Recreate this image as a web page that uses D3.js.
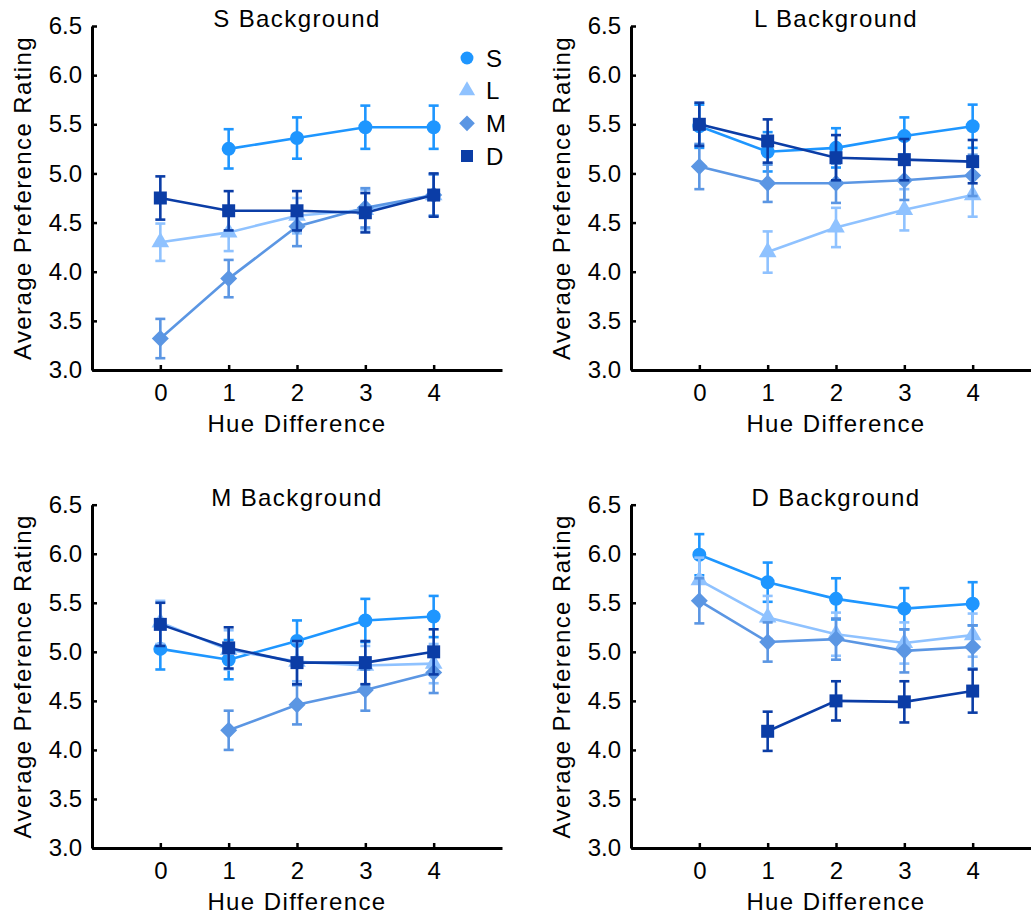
<!DOCTYPE html>
<html>
<head>
<meta charset="utf-8">
<script src="https://cdn.jsdelivr.net/npm/d3@7"></script>
<style>
  body { margin: 0; background: #fff; }
  text { font-family: "Liberation Sans", Arial, Helvetica, sans-serif; fill: #000; }
</style>
</head>
<body>
<div id="chart"></div>
<script>
var hueDiff = [0, 1, 2, 3, 4]
var seriesNames = ['S', 'L', 'M', 'D']
var seriesColors = ['#1e96ff', '#8fc2ff', '#5b96e3', '#0b3da6']
var panelTitles = ['S Background', 'L Background', 'M Background', 'D Background']
var yTicks = [3.0, 3.5, 4.0, 4.5, 5.0, 5.5, 6.0, 6.5]

// rows: S, L, M, D stimulus; null = no point
var sBgMeans = [
  [null, 5.25, 5.36, 5.47, 5.47],
  [4.30, 4.40, 4.57, 4.63, 4.78],
  [3.32, 3.93, 4.46, 4.65, 4.78],
  [4.75, 4.62, 4.62, 4.60, 4.78]
]
var sBgErr = [
  [null, 0.20, 0.21, 0.22, 0.22],
  [0.19, 0.19, 0.18, 0.20, 0.21],
  [0.20, 0.19, 0.20, 0.20, 0.21],
  [0.22, 0.20, 0.20, 0.20, 0.22]
]
var lBgMeans = [
  [5.48, 5.22, 5.26, 5.38, 5.48],
  [null, 4.20, 4.45, 4.63, 4.78],
  [5.07, 4.90, 4.90, 4.93, 4.98],
  [5.50, 5.33, 5.16, 5.14, 5.12]
]
var lBgErr = [
  [0.22, 0.20, 0.20, 0.19, 0.22],
  [null, 0.21, 0.20, 0.21, 0.22],
  [0.23, 0.19, 0.20, 0.20, 0.21],
  [0.22, 0.22, 0.23, 0.21, 0.22]
]
var mBgMeans = [
  [5.03, 4.92, 5.11, 5.32, 5.36],
  [5.30, 5.02, 4.90, 4.86, 4.88],
  [null, 4.20, 4.46, 4.61, 4.79],
  [5.28, 5.04, 4.89, 4.89, 5.00]
]
var mBgErr = [
  [0.21, 0.20, 0.21, 0.22, 0.21],
  [0.22, 0.20, 0.20, 0.20, 0.20],
  [null, 0.20, 0.20, 0.21, 0.21],
  [0.22, 0.21, 0.22, 0.22, 0.23]
]
var dBgMeans = [
  [5.99, 5.71, 5.54, 5.44, 5.49],
  [5.73, 5.35, 5.18, 5.09, 5.17],
  [5.52, 5.10, 5.13, 5.01, 5.05],
  [null, 4.19, 4.50, 4.49, 4.60]
]
var dBgErr = [
  [0.21, 0.20, 0.21, 0.21, 0.22],
  [0.23, 0.22, 0.22, 0.21, 0.22],
  [0.23, 0.20, 0.21, 0.22, 0.22],
  [null, 0.20, 0.20, 0.21, 0.22]
]

var allMeans = [sBgMeans, lBgMeans, mBgMeans, dBgMeans]
var allErr = [sBgErr, lBgErr, mBgErr, dBgErr]

var W = 1031, H = 915
var svg = d3.select('#chart').append('svg')
    .attr('width', W)
    .attr('height', H)

// panel placement: left edge of y axis, top/bottom of plot
var panelLeft = [92, 631, 92, 631]
var panelTop = [26, 26, 504.7, 504.7]
var panelBottom = [370, 370, 848, 848]
var panelWidth = 410

function markerPath (name, big) {
  var k = big ? 1 : 0.85
  if (name === 'S') return d3.symbol().type(d3.symbolCircle).size(154 * k)()
  if (name === 'L') return d3.symbol().type(d3.symbolTriangle).size(135 * k)()
  if (name === 'M') {
    var r = 8.5 * Math.sqrt(k)
    return 'M0,' + (-r) + 'L' + r + ',0L0,' + r + 'L' + (-r) + ',0Z'
  }
  return d3.symbol().type(d3.symbolSquare).size(169 * k)()
}

panelTitles.forEach(function (title, p) {
  var x0 = panelLeft[p]
  var x = d3.scaleLinear().domain([-1, 5]).range([x0, x0 + panelWidth])
  var y = d3.scaleLinear().domain([3.0, 6.5]).range([panelBottom[p], panelTop[p]])
  var g = svg.append('g')

  var yAxis = g.append('g')
      .attr('transform', 'translate(' + x0 + ',0)')
      .call(d3.axisLeft(y).tickValues(yTicks).tickFormat(d3.format('.1f'))
        .tickSizeInner(-5).tickSizeOuter(0).tickPadding(10))
  var xAxis = g.append('g')
      .attr('transform', 'translate(0,' + panelBottom[p] + ')')
      .call(d3.axisBottom(x).tickValues(hueDiff).tickFormat(d3.format('d'))
        .tickSizeInner(-5).tickSizeOuter(0).tickPadding(14))

  ;[xAxis, yAxis].forEach(function (a) {
    a.select('.domain').attr('stroke', '#000').attr('stroke-width', 3)
    a.selectAll('.tick line').attr('stroke', '#000').attr('stroke-width', 2.5)
    a.selectAll('.tick text').style('font-size', '24px')
      .style('font-family', '"Liberation Sans", Arial, sans-serif').attr('fill', '#000')
  })
  xAxis.selectAll('.tick text').attr('dy', '0.71em')

  g.append('text')
      .attr('x', x(2))
      .attr('y', panelTop[p] + 1)
      .attr('text-anchor', 'middle')
      .style('font-size', '24px')
      .style('letter-spacing', '1.4px')
      .text(title)

  g.append('text')
      .attr('x', x(2))
      .attr('y', panelBottom[p] + 62)
      .attr('text-anchor', 'middle')
      .style('font-size', '24px')
      .style('letter-spacing', '1.4px')
      .text('Hue Difference')

  g.append('text')
      .attr('transform', 'translate(' + (x0 - 61) + ',' + ((panelTop[p] + panelBottom[p]) / 2) + ') rotate(-90)')
      .attr('text-anchor', 'middle')
      .style('font-size', '24px')
      .style('letter-spacing', '1.4px')
      .text('Average Preference Rating')

  var line = d3.line()
      .defined(function (d) { return d.m !== null })
      .x(function (d) { return x(d.h) })
      .y(function (d) { return y(d.m) })

  seriesNames.forEach(function (name, s) {
    var pts = hueDiff.map(function (h, i) {
      return { h: h, m: allMeans[p][s][i], e: allErr[p][s][i] }
    })
    var col = seriesColors[s]
    var sg = g.append('g')

    sg.append('path')
        .datum(pts)
        .attr('fill', 'none')
        .attr('stroke', col)
        .attr('stroke-width', 2.6)
        .attr('d', line)

    var valid = pts.filter(function (d) { return d.m !== null })
    var eb = sg.selectAll('g.eb').data(valid).enter().append('g')
        .attr('stroke', col)
        .attr('stroke-width', 2.6)
    eb.append('line')
        .attr('x1', function (d) { return x(d.h) })
        .attr('x2', function (d) { return x(d.h) })
        .attr('y1', function (d) { return y(d.m - d.e) })
        .attr('y2', function (d) { return y(d.m + d.e) })
    eb.append('line')
        .attr('x1', function (d) { return x(d.h) - 5 })
        .attr('x2', function (d) { return x(d.h) + 5 })
        .attr('y1', function (d) { return y(d.m - d.e) })
        .attr('y2', function (d) { return y(d.m - d.e) })
    eb.append('line')
        .attr('x1', function (d) { return x(d.h) - 5 })
        .attr('x2', function (d) { return x(d.h) + 5 })
        .attr('y1', function (d) { return y(d.m + d.e) })
        .attr('y2', function (d) { return y(d.m + d.e) })

    sg.selectAll('path.mk').data(valid).enter().append('path')
        .attr('class', 'mk')
        .attr('transform', function (d) { return 'translate(' + x(d.h) + ',' + y(d.m) + ')' })
        .attr('d', markerPath(name, true))
        .attr('fill', col)
  })
})

// legend in first panel
var legend = svg.append('g')
var legY = d3.scalePoint().domain(seriesNames).range([58, 156])
seriesNames.forEach(function (name, s) {
  legend.append('path')
      .attr('transform', 'translate(467,' + legY(name) + ')')
      .attr('d', markerPath(name, false))
      .attr('fill', seriesColors[s])
  legend.append('text')
      .attr('x', 486)
      .attr('y', legY(name))
      .attr('dy', '0.36em')
      .style('font-size', '24px')
      .text(name)
})
</script>
</body>
</html>
